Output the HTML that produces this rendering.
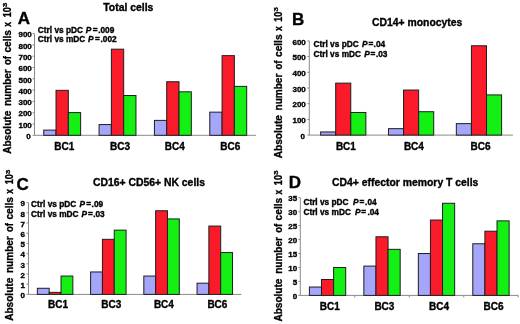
<!DOCTYPE html>
<html><head><meta charset="utf-8"><style>
html,body{margin:0;padding:0;background:#fff;}
svg{display:block;filter:blur(0.3px);}
text{font-family:"Liberation Sans", sans-serif;font-weight:bold;fill:#000;stroke:#000;stroke-width:0.35px;}
.tl{font-size:8px;text-anchor:end;}
.cl{font-size:10px;text-anchor:middle;}
.lt{font-size:17px;text-anchor:middle;}
.ti{font-size:10.4px;}
.ct{font-size:8.3px;}
.yt{font-size:9px;}
.sup{font-size:7px;}
</style></head><body>
<svg width="520" height="324" viewBox="0 0 520 324">
<rect width="520" height="324" fill="#fff"/>
<path d="M34.5 33.6V135.3H255.9" stroke="#8a8a8a" stroke-width="1" fill="none"/>
<text class="tl" x="30.6" y="139">0</text>
<text class="tl" x="31.8" y="127.7">100</text>
<text class="tl" x="31.8" y="116.4">200</text>
<text class="tl" x="31.8" y="105.1">300</text>
<text class="tl" x="31.8" y="93.8">400</text>
<text class="tl" x="31.8" y="82.5">500</text>
<text class="tl" x="31.8" y="71.2">600</text>
<text class="tl" x="31.8" y="59.9">700</text>
<text class="tl" x="31.8" y="48.6">800</text>
<text class="tl" x="31.8" y="37.3">900</text>
<path d="M32.5 135.3H34.5M32.5 124H34.5M32.5 112.7H34.5M32.5 101.4H34.5M32.5 90.1H34.5M32.5 78.8H34.5M32.5 67.5H34.5M32.5 56.2H34.5M32.5 44.9H34.5M32.5 33.6H34.5" stroke="#8a8a8a" stroke-width="1"/>
<rect x="43.73" y="130.1" width="12.3" height="5.2" fill="#a5a5f9" stroke="#1e1e1e" stroke-width="1"/>
<rect x="56.03" y="90.33" width="12.3" height="44.97" fill="#fa1b2a" stroke="#1e1e1e" stroke-width="1"/>
<rect x="68.33" y="112.59" width="12.3" height="22.71" fill="#14ef14" stroke="#1e1e1e" stroke-width="1"/>
<rect x="99.07" y="124.57" width="12.3" height="10.74" fill="#a5a5f9" stroke="#1e1e1e" stroke-width="1"/>
<rect x="111.38" y="49.19" width="12.3" height="86.11" fill="#fa1b2a" stroke="#1e1e1e" stroke-width="1"/>
<rect x="123.67" y="95.52" width="12.3" height="39.78" fill="#14ef14" stroke="#1e1e1e" stroke-width="1"/>
<rect x="154.42" y="120.38" width="12.3" height="14.92" fill="#a5a5f9" stroke="#1e1e1e" stroke-width="1"/>
<rect x="166.72" y="81.74" width="12.3" height="53.56" fill="#fa1b2a" stroke="#1e1e1e" stroke-width="1"/>
<rect x="179.02" y="91.8" width="12.3" height="43.51" fill="#14ef14" stroke="#1e1e1e" stroke-width="1"/>
<rect x="209.78" y="112.14" width="12.3" height="23.17" fill="#a5a5f9" stroke="#1e1e1e" stroke-width="1"/>
<rect x="222.08" y="55.64" width="12.3" height="79.67" fill="#fa1b2a" stroke="#1e1e1e" stroke-width="1"/>
<rect x="234.38" y="86.37" width="12.3" height="48.93" fill="#14ef14" stroke="#1e1e1e" stroke-width="1"/>
<text class="cl" x="64.3" y="149.6">BC1</text>
<text class="cl" x="120" y="149.6">BC3</text>
<text class="cl" x="174.8" y="149.6">BC4</text>
<text class="cl" x="230.2" y="149.6">BC6</text>
<text class="lt" x="23.95" y="24.19">A</text>
<text class="ti" x="103.3" y="10.5">Total cells</text>
<text class="ct" x="37.85" y="32.6">Ctrl vs pDC</text>
<text class="ct" x="85.8" y="32.6" font-style="italic">P</text>
<text class="ct" x="92.7" y="32.6">=</text>
<text class="ct" x="98.2" y="32.6">.009</text>
<text class="ct" x="37.85" y="42.2">Ctrl vs mDC</text>
<text class="ct" x="88.1" y="42.2" font-style="italic">P</text>
<text class="ct" x="95" y="42.2">=</text>
<text class="ct" x="100.5" y="42.2">.002</text>
<text transform="translate(11.1 153.81) rotate(-90)" style="font-size:10px;stroke-width:0.32px" textLength="43.08" lengthAdjust="spacingAndGlyphs">Absolute</text>
<text transform="translate(11.1 106.04) rotate(-90)" style="font-size:10px;stroke-width:0.32px" textLength="36.79" lengthAdjust="spacingAndGlyphs">number</text>
<text transform="translate(11.1 65.05) rotate(-90)" style="font-size:10px;stroke-width:0.32px" textLength="8.97" lengthAdjust="spacingAndGlyphs">of</text>
<text transform="translate(11.1 52.58) rotate(-90)" style="font-size:10px;stroke-width:0.32px" textLength="22.55" lengthAdjust="spacingAndGlyphs">cells</text>
<text transform="translate(11.1 26.68) rotate(-90)" style="font-size:10px;stroke-width:0.32px" textLength="4.77" lengthAdjust="spacingAndGlyphs">x</text>
<text transform="translate(11.1 17.33) rotate(-90)" style="font-size:10px;stroke-width:0.32px" textLength="10.09" lengthAdjust="spacingAndGlyphs">10</text>
<text transform="translate(7.35 7.05) rotate(-90)" style="font-size:5.5px;stroke-width:0.32px" textLength="4.24" lengthAdjust="spacingAndGlyphs">3</text>
<path d="M309.3 40.9V135.1H512.9" stroke="#8a8a8a" stroke-width="1" fill="none"/>
<text class="tl" x="305" y="138.8">0</text>
<text class="tl" x="305.8" y="123.1">100</text>
<text class="tl" x="305.8" y="107.4">200</text>
<text class="tl" x="305.8" y="91.7">300</text>
<text class="tl" x="305.8" y="76">400</text>
<text class="tl" x="305.8" y="60.3">500</text>
<text class="tl" x="305.8" y="44.6">600</text>
<path d="M307.3 135.1H309.3M307.3 119.4H309.3M307.3 103.7H309.3M307.3 88H309.3M307.3 72.3H309.3M307.3 56.6H309.3M307.3 40.9H309.3" stroke="#8a8a8a" stroke-width="1"/>
<rect x="320.61" y="131.96" width="15.08" height="3.14" fill="#a5a5f9" stroke="#1e1e1e" stroke-width="1"/>
<rect x="335.69" y="83.13" width="15.08" height="51.97" fill="#fa1b2a" stroke="#1e1e1e" stroke-width="1"/>
<rect x="350.77" y="112.49" width="15.08" height="22.61" fill="#14ef14" stroke="#1e1e1e" stroke-width="1"/>
<rect x="388.48" y="128.66" width="15.08" height="6.44" fill="#a5a5f9" stroke="#1e1e1e" stroke-width="1"/>
<rect x="403.56" y="90.04" width="15.08" height="45.06" fill="#fa1b2a" stroke="#1e1e1e" stroke-width="1"/>
<rect x="418.64" y="111.71" width="15.08" height="23.39" fill="#14ef14" stroke="#1e1e1e" stroke-width="1"/>
<rect x="456.34" y="123.64" width="15.08" height="11.46" fill="#a5a5f9" stroke="#1e1e1e" stroke-width="1"/>
<rect x="471.43" y="45.77" width="15.08" height="89.33" fill="#fa1b2a" stroke="#1e1e1e" stroke-width="1"/>
<rect x="486.51" y="94.91" width="15.08" height="40.19" fill="#14ef14" stroke="#1e1e1e" stroke-width="1"/>
<text class="cl" x="345.9" y="149.8">BC1</text>
<text class="cl" x="413.9" y="149.8">BC4</text>
<text class="cl" x="480.5" y="149.8">BC6</text>
<text class="lt" x="298.1" y="24.94">B</text>
<text class="ti" x="372" y="25.7">CD14+ monocytes</text>
<text class="ct" x="313.5" y="47.3">Ctrl vs pDC</text>
<text class="ct" x="362" y="47.3" font-style="italic">P</text>
<text class="ct" x="368.5" y="47.3">=</text>
<text class="ct" x="373.6" y="47.3">.04</text>
<text class="ct" x="313.5" y="57.1">Ctrl vs mDC</text>
<text class="ct" x="364.3" y="57.1" font-style="italic">P</text>
<text class="ct" x="370.5" y="57.1">=</text>
<text class="ct" x="375.9" y="57.1">.03</text>
<text transform="translate(281.65 158.22) rotate(-90)" style="font-size:10px;stroke-width:0.32px" textLength="43.08" lengthAdjust="spacingAndGlyphs">Absolute</text>
<text transform="translate(281.65 110.44) rotate(-90)" style="font-size:10px;stroke-width:0.32px" textLength="36.79" lengthAdjust="spacingAndGlyphs">number</text>
<text transform="translate(281.65 69.45) rotate(-90)" style="font-size:10px;stroke-width:0.32px" textLength="8.97" lengthAdjust="spacingAndGlyphs">of</text>
<text transform="translate(281.65 56.98) rotate(-90)" style="font-size:10px;stroke-width:0.32px" textLength="22.55" lengthAdjust="spacingAndGlyphs">cells</text>
<text transform="translate(281.65 31.08) rotate(-90)" style="font-size:10px;stroke-width:0.32px" textLength="4.77" lengthAdjust="spacingAndGlyphs">x</text>
<text transform="translate(281.65 21.73) rotate(-90)" style="font-size:10px;stroke-width:0.32px" textLength="10.09" lengthAdjust="spacingAndGlyphs">10</text>
<text transform="translate(277.9 11.45) rotate(-90)" style="font-size:5.5px;stroke-width:0.32px" textLength="4.24" lengthAdjust="spacingAndGlyphs">3</text>
<path d="M28.5 202.6V294.4H241.4" stroke="#8a8a8a" stroke-width="1" fill="none"/>
<text class="tl" x="25" y="298.1">0</text>
<text class="tl" x="25" y="287.9">1</text>
<text class="tl" x="25" y="277.7">2</text>
<text class="tl" x="25" y="267.5">3</text>
<text class="tl" x="25" y="257.3">4</text>
<text class="tl" x="25" y="247.1">5</text>
<text class="tl" x="25" y="236.9">6</text>
<text class="tl" x="25" y="226.7">7</text>
<text class="tl" x="25" y="216.5">8</text>
<text class="tl" x="25" y="206.3">9</text>
<path d="M26.5 294.4H28.5M26.5 284.2H28.5M26.5 274H28.5M26.5 263.8H28.5M26.5 253.6H28.5M26.5 243.4H28.5M26.5 233.2H28.5M26.5 223H28.5M26.5 212.8H28.5M26.5 202.6H28.5" stroke="#8a8a8a" stroke-width="1"/>
<rect x="37.37" y="288.28" width="11.83" height="6.12" fill="#a5a5f9" stroke="#1e1e1e" stroke-width="1"/>
<rect x="49.2" y="292.36" width="11.83" height="2.04" fill="#fa1b2a" stroke="#1e1e1e" stroke-width="1"/>
<rect x="61.03" y="276.04" width="11.83" height="18.36" fill="#14ef14" stroke="#1e1e1e" stroke-width="1"/>
<rect x="90.6" y="271.96" width="11.83" height="22.44" fill="#a5a5f9" stroke="#1e1e1e" stroke-width="1"/>
<rect x="102.42" y="239.32" width="11.83" height="55.08" fill="#fa1b2a" stroke="#1e1e1e" stroke-width="1"/>
<rect x="114.25" y="230.14" width="11.83" height="64.26" fill="#14ef14" stroke="#1e1e1e" stroke-width="1"/>
<rect x="143.82" y="276.04" width="11.83" height="18.36" fill="#a5a5f9" stroke="#1e1e1e" stroke-width="1"/>
<rect x="155.65" y="210.76" width="11.83" height="83.64" fill="#fa1b2a" stroke="#1e1e1e" stroke-width="1"/>
<rect x="167.48" y="218.92" width="11.83" height="75.48" fill="#14ef14" stroke="#1e1e1e" stroke-width="1"/>
<rect x="197.05" y="283.18" width="11.83" height="11.22" fill="#a5a5f9" stroke="#1e1e1e" stroke-width="1"/>
<rect x="208.87" y="226.06" width="11.83" height="68.34" fill="#fa1b2a" stroke="#1e1e1e" stroke-width="1"/>
<rect x="220.7" y="252.58" width="11.83" height="41.82" fill="#14ef14" stroke="#1e1e1e" stroke-width="1"/>
<text class="cl" x="58" y="307.9">BC1</text>
<text class="cl" x="111.3" y="307.9">BC3</text>
<text class="cl" x="163.9" y="307.9">BC4</text>
<text class="cl" x="217.4" y="307.9">BC6</text>
<text class="lt" x="22.6" y="189.79">C</text>
<text class="ti" x="92.9" y="185.9">CD16+ CD56+ NK cells</text>
<text class="ct" x="31.1" y="207">Ctrl vs pDC</text>
<text class="ct" x="79.6" y="207" font-style="italic">P</text>
<text class="ct" x="86.2" y="207">=</text>
<text class="ct" x="91.6" y="207">.09</text>
<text class="ct" x="31.1" y="216.9">Ctrl vs mDC</text>
<text class="ct" x="81.5" y="216.9" font-style="italic">P</text>
<text class="ct" x="88.1" y="216.9">=</text>
<text class="ct" x="93.2" y="216.9">.03</text>
<text transform="translate(13.25 320.81) rotate(-90)" style="font-size:10px;stroke-width:0.32px" textLength="43.08" lengthAdjust="spacingAndGlyphs">Absolute</text>
<text transform="translate(13.25 273.04) rotate(-90)" style="font-size:10px;stroke-width:0.32px" textLength="36.79" lengthAdjust="spacingAndGlyphs">number</text>
<text transform="translate(13.25 232.05) rotate(-90)" style="font-size:10px;stroke-width:0.32px" textLength="8.97" lengthAdjust="spacingAndGlyphs">of</text>
<text transform="translate(13.25 219.58) rotate(-90)" style="font-size:10px;stroke-width:0.32px" textLength="22.55" lengthAdjust="spacingAndGlyphs">cells</text>
<text transform="translate(13.25 193.67) rotate(-90)" style="font-size:10px;stroke-width:0.32px" textLength="4.77" lengthAdjust="spacingAndGlyphs">x</text>
<text transform="translate(13.25 184.33) rotate(-90)" style="font-size:10px;stroke-width:0.32px" textLength="10.09" lengthAdjust="spacingAndGlyphs">10</text>
<text transform="translate(9.5 174.05) rotate(-90)" style="font-size:5.5px;stroke-width:0.32px" textLength="4.24" lengthAdjust="spacingAndGlyphs">3</text>
<path d="M300.3 197.7V295.4H518.2" stroke="#8a8a8a" stroke-width="1" fill="none"/>
<text class="tl" x="297.2" y="299.1">0</text>
<text class="tl" x="297.2" y="285.14">5</text>
<text class="tl" x="297.2" y="271.19">10</text>
<text class="tl" x="297.2" y="257.23">15</text>
<text class="tl" x="297.2" y="243.27">20</text>
<text class="tl" x="297.2" y="229.31">25</text>
<text class="tl" x="297.2" y="215.36">30</text>
<text class="tl" x="297.2" y="201.4">35</text>
<path d="M298.3 295.4H300.3M298.3 281.44H300.3M298.3 267.49H300.3M298.3 253.53H300.3M298.3 239.57H300.3M298.3 225.61H300.3M298.3 211.66H300.3M298.3 197.7H300.3" stroke="#8a8a8a" stroke-width="1"/>
<path d="M354.78 295.4v2M409.25 295.4v2M463.73 295.4v2M518.2 295.4v2" stroke="#8a8a8a" stroke-width="1"/>
<rect x="309.38" y="287.03" width="12.11" height="8.37" fill="#a5a5f9" stroke="#1e1e1e" stroke-width="1"/>
<rect x="321.48" y="279.49" width="12.11" height="15.91" fill="#fa1b2a" stroke="#1e1e1e" stroke-width="1"/>
<rect x="333.59" y="267.49" width="12.11" height="27.91" fill="#14ef14" stroke="#1e1e1e" stroke-width="1"/>
<rect x="363.85" y="266.09" width="12.11" height="29.31" fill="#a5a5f9" stroke="#1e1e1e" stroke-width="1"/>
<rect x="375.96" y="236.78" width="12.11" height="58.62" fill="#fa1b2a" stroke="#1e1e1e" stroke-width="1"/>
<rect x="388.07" y="249.34" width="12.11" height="46.06" fill="#14ef14" stroke="#1e1e1e" stroke-width="1"/>
<rect x="418.33" y="253.53" width="12.11" height="41.87" fill="#a5a5f9" stroke="#1e1e1e" stroke-width="1"/>
<rect x="430.43" y="220.03" width="12.11" height="75.37" fill="#fa1b2a" stroke="#1e1e1e" stroke-width="1"/>
<rect x="442.54" y="203.28" width="12.11" height="92.12" fill="#14ef14" stroke="#1e1e1e" stroke-width="1"/>
<rect x="472.8" y="243.76" width="12.11" height="51.64" fill="#a5a5f9" stroke="#1e1e1e" stroke-width="1"/>
<rect x="484.91" y="231.2" width="12.11" height="64.2" fill="#fa1b2a" stroke="#1e1e1e" stroke-width="1"/>
<rect x="497.02" y="220.87" width="12.11" height="74.53" fill="#14ef14" stroke="#1e1e1e" stroke-width="1"/>
<text class="cl" x="329.7" y="309.6">BC1</text>
<text class="cl" x="384.4" y="309.6">BC3</text>
<text class="cl" x="439" y="309.6">BC4</text>
<text class="cl" x="493.5" y="309.6">BC6</text>
<text class="lt" x="294.8" y="188.09">D</text>
<text class="ti" x="332" y="185.6">CD4+ effector memory T cells</text>
<text class="ct" x="303.4" y="205.3">Ctrl vs pDC</text>
<text class="ct" x="353.1" y="205.3" font-style="italic">P</text>
<text class="ct" x="359.6" y="205.3">=</text>
<text class="ct" x="365.1" y="205.3">.04</text>
<text class="ct" x="303.4" y="215.3">Ctrl vs mDC</text>
<text class="ct" x="355" y="215.3" font-style="italic">P</text>
<text class="ct" x="361.2" y="215.3">=</text>
<text class="ct" x="367.4" y="215.3">.04</text>
<text transform="translate(282.05 321.62) rotate(-90)" style="font-size:10px;stroke-width:0.32px" textLength="43.08" lengthAdjust="spacingAndGlyphs">Absolute</text>
<text transform="translate(282.05 273.84) rotate(-90)" style="font-size:10px;stroke-width:0.32px" textLength="36.79" lengthAdjust="spacingAndGlyphs">number</text>
<text transform="translate(282.05 232.85) rotate(-90)" style="font-size:10px;stroke-width:0.32px" textLength="8.97" lengthAdjust="spacingAndGlyphs">of</text>
<text transform="translate(282.05 220.38) rotate(-90)" style="font-size:10px;stroke-width:0.32px" textLength="22.55" lengthAdjust="spacingAndGlyphs">cells</text>
<text transform="translate(282.05 194.47) rotate(-90)" style="font-size:10px;stroke-width:0.32px" textLength="4.77" lengthAdjust="spacingAndGlyphs">x</text>
<text transform="translate(282.05 185.13) rotate(-90)" style="font-size:10px;stroke-width:0.32px" textLength="10.09" lengthAdjust="spacingAndGlyphs">10</text>
<text transform="translate(278.3 174.85) rotate(-90)" style="font-size:5.5px;stroke-width:0.32px" textLength="4.24" lengthAdjust="spacingAndGlyphs">3</text>
</svg>
</body></html>
